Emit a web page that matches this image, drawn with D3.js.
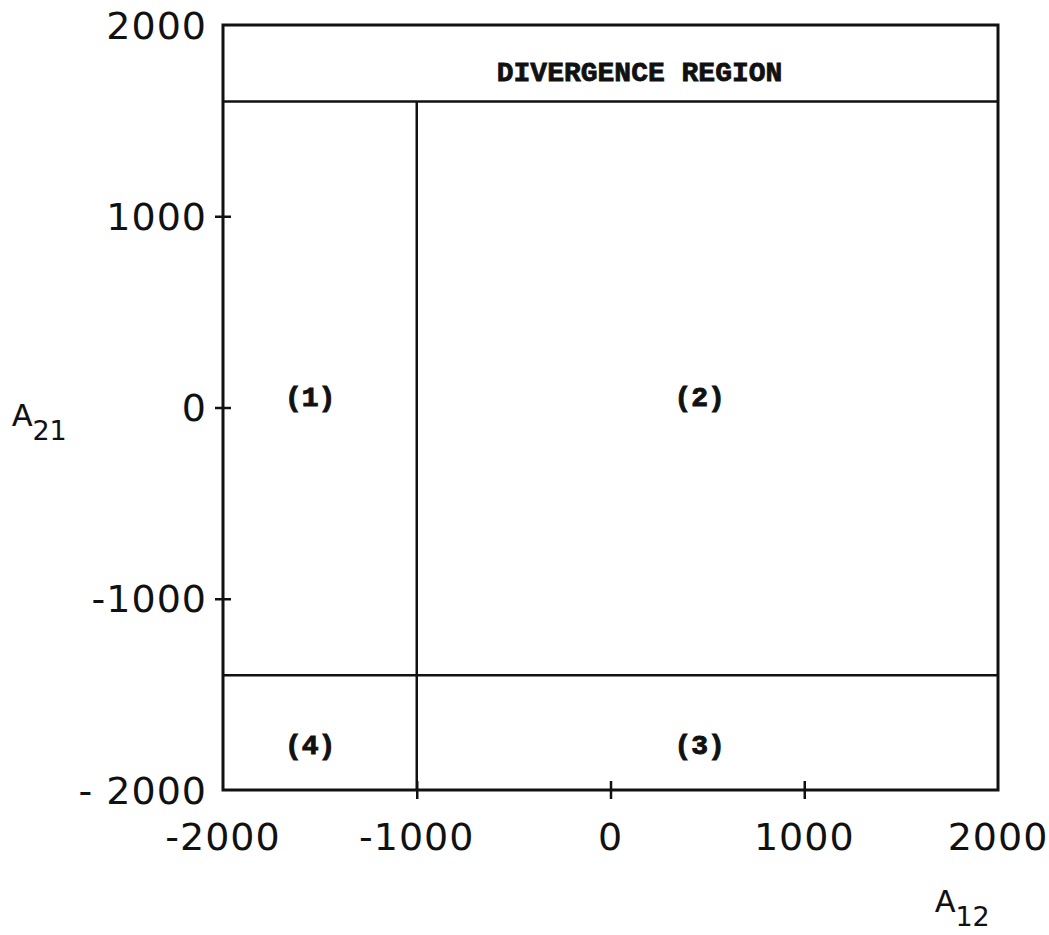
<!DOCTYPE html>
<html>
<head>
<meta charset="utf-8">
<script src="https://cdn.jsdelivr.net/npm/d3@7"></script>
<style>
  html, body { margin: 0; padding: 0; background: #fff; }
  svg { display: block; }
</style>
</head>
<body>
<svg id="chart" width="1049" height="935"></svg>
<script>
// Axis extents and ticks (A12 horizontal, A21 vertical)
const xDomain = [-2000, 2000];
const yDomain = [-2000, 2000];
const xTicks = [-2000, -1000, 0, 1000, 2000];
const xTickLabels = ["-2000", "-1000", "0", "1000", "2000"];
const yTicks = [-2000, -1000, 0, 1000, 2000];
const yTickLabels = ["- 2000", "-1000", "0", "1000", "2000"];

// Region boundaries
const divergenceA21 = 1600;   // above this: divergence region
const lowerA21 = -1400;       // horizontal split between (2)/(3) and (1)/(4)
const splitA12 = -1000;       // vertical split between (1)/(4) and (2)/(3)

// Region labels placed at data coordinates
const regionNames = ["(1)", "(2)", "(3)", "(4)"];
const regionA12 = [-1550, 460, 460, -1550];
const regionA21 = [60, 60, -1760, -1760];
const titleText = "DIVERGENCE REGION";
const titleA12 = 150;
const titleA21 = 1760;

const svg = d3.select("#chart");
svg.append("rect").attr("width", 1049).attr("height", 935).attr("fill", "#fff");

const x = d3.scaleLinear().domain(xDomain).range([223, 998]);
const y = d3.scaleLinear().domain(yDomain).range([790, 25]);

const ink = "#111";
const tickFont = "'DejaVu Sans', sans-serif";
const typeFont = "'Liberation Mono', 'Courier New', monospace";

// Y axis: ticks cross the axis line
const yAxis = d3.axisLeft(y)
  .tickValues(yTicks.filter(v => v !== yDomain[0] && v !== yDomain[1]))
  .tickSize(8)
  .tickFormat("");
const gy = svg.append("g").attr("transform", `translate(${x(xDomain[0])},0)`).call(yAxis);
gy.select(".domain").remove();
gy.selectAll(".tick line").attr("x1", 8).attr("x2", -8)
  .attr("stroke", ink).attr("stroke-width", 2.5);

// X axis: ticks cross the axis line
const xAxis = d3.axisBottom(x)
  .tickValues(xTicks.filter(v => v !== xDomain[0] && v !== xDomain[1]))
  .tickSize(9)
  .tickFormat("");
const gx = svg.append("g").attr("transform", `translate(0,${y(yDomain[0])})`).call(xAxis);
gx.select(".domain").remove();
gx.selectAll(".tick line").attr("y1", -9).attr("y2", 9)
  .attr("stroke", ink).attr("stroke-width", 2.5);

// Y tick labels
svg.append("g").selectAll("text").data(yTicks).join("text")
  .attr("x", 207)
  .attr("y", d => y(d))
  .attr("dy", "0.36em")
  .attr("text-anchor", "end")
  .attr("font-family", tickFont)
  .attr("font-size", 38)
  .attr("letter-spacing", 1)
  .attr("fill", ink)
  .text((d, i) => yTickLabels[i]);

// X tick labels
svg.append("g").selectAll("text").data(xTicks).join("text")
  .attr("x", d => x(d))
  .attr("y", y(yDomain[0]) + 60)
  .attr("text-anchor", "middle")
  .attr("font-family", tickFont)
  .attr("font-size", 38)
  .attr("letter-spacing", 1)
  .attr("fill", ink)
  .text((d, i) => xTickLabels[i]);

// Outer frame
svg.append("rect")
  .attr("x", x(xDomain[0])).attr("y", y(yDomain[1]))
  .attr("width", x(xDomain[1]) - x(xDomain[0]))
  .attr("height", y(yDomain[0]) - y(yDomain[1]))
  .attr("fill", "none").attr("stroke", ink).attr("stroke-width", 3);

// Region boundary lines
const bounds = [
  { x1: xDomain[0], y1: divergenceA21, x2: xDomain[1], y2: divergenceA21 },
  { x1: xDomain[0], y1: lowerA21, x2: xDomain[1], y2: lowerA21 },
  { x1: splitA12, y1: divergenceA21, x2: splitA12, y2: yDomain[0] }
];
svg.append("g").selectAll("line").data(bounds).join("line")
  .attr("x1", d => x(d.x1)).attr("y1", d => y(d.y1))
  .attr("x2", d => x(d.x2)).attr("y2", d => y(d.y2))
  .attr("stroke", ink).attr("stroke-width", 2.5);

// Region labels (heavy typewriter face)
svg.append("g").selectAll("text").data(regionNames).join("text")
  .attr("x", (d, i) => x(regionA12[i]))
  .attr("y", (d, i) => y(regionA21[i]))
  .attr("dy", "0.35em")
  .attr("text-anchor", "middle")
  .attr("font-family", typeFont)
  .attr("font-weight", "bold")
  .attr("font-size", 28)
  .attr("stroke", ink)
  .attr("stroke-width", 1)
  .attr("fill", ink)
  .text(d => d);

svg.append("text")
  .attr("x", x(titleA12)).attr("y", y(titleA21))
  .attr("dy", "0.35em")
  .attr("text-anchor", "middle")
  .attr("font-family", typeFont)
  .attr("font-weight", "bold")
  .attr("font-size", 28)
  .attr("stroke", ink)
  .attr("stroke-width", 0.8)
  .attr("fill", ink)
  .text(titleText);

// Axis titles with subscripts
function axisTitle(px, py, letter, sub) {
  const t = svg.append("text").attr("x", px).attr("y", py).attr("fill", ink);
  t.append("tspan").attr("font-family", typeFont).attr("font-size", 34).text(letter);
  t.append("tspan").attr("font-family", tickFont).attr("font-size", 27)
    .attr("dy", 14).text(sub);
}
axisTitle(12, 426, "A", "21");
axisTitle(935, 912, "A", "12");
</script>
</body>
</html>
